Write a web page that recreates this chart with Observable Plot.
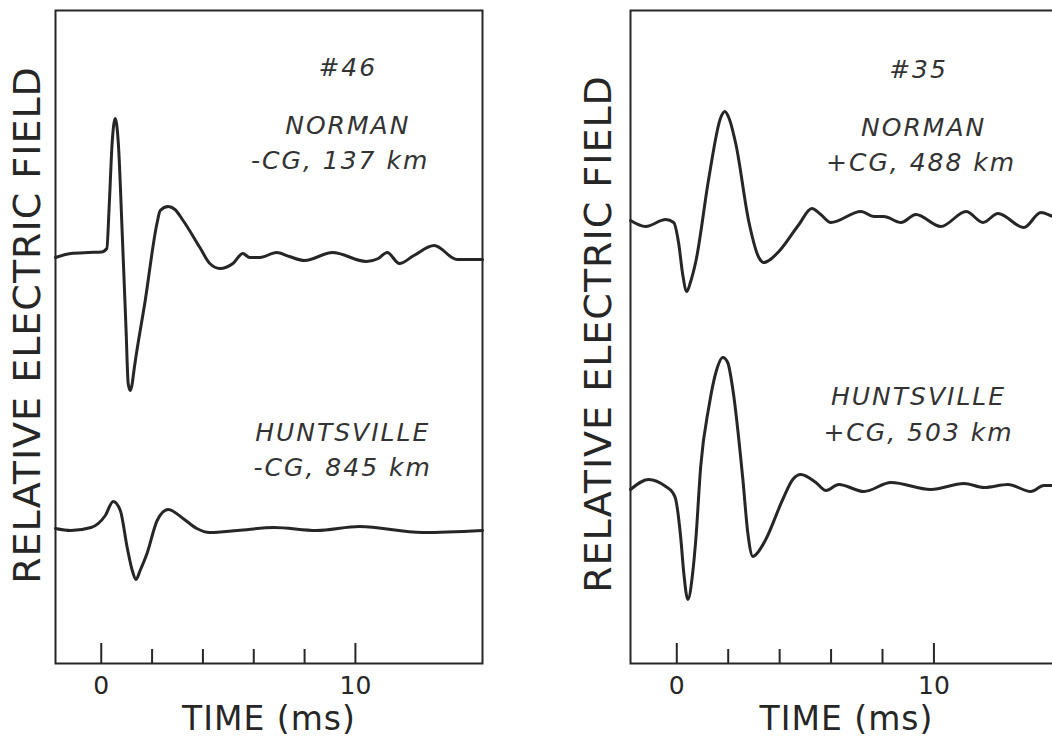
<!DOCTYPE html>
<html>
<head>
<meta charset="utf-8">
<script src="https://cdn.jsdelivr.net/npm/d3@7"></script>
<script src="https://cdn.jsdelivr.net/npm/@observablehq/plot@0.6"></script>
<style>
  html, body { margin: 0; padding: 0; background: #fff; }
  #wrap { display: flex; width: 1052px; height: 740px; overflow: hidden; }
  #wrap svg { flex: none; display: block; }
</style>
</head>
<body>
<div id="wrap"></div>
<script>
// ---- Data (time in ms, field in relative units) ----
const majorTicks = [0, 10];
const minorTicks = [2, 4, 6, 8];
const xTitle = "TIME (ms)";
const yTitle = "RELATIVE ELECTRIC FIELD";

// Flash #46, Norman, -CG 137 km
const f46NormanTime  = [-1.8, -1.2, -0.5, 0.0, 0.22, 0.31, 0.43, 0.55, 0.67, 0.83, 0.98, 1.06, 1.14, 1.22, 1.26, 1.73, 2.2, 2.32, 2.63, 2.9, 3.22, 3.88, 4.27, 4.67, 5.18, 5.57, 5.84, 6.24, 6.9, 7.4, 8.0, 9.1, 10.43, 10.9, 11.25, 11.73, 12.3, 13.1, 14.0, 15.0];
const f46NormanField = [0, 0.4, 0.5, 0.55, 0.9, 5.0, 11.5, 13.9, 11.5, 2.1, -7.5, -12.6, -13.3, -12.6, -11.8, -4.3, 3.5, 4.7, 5.1, 4.8, 3.7, 1.0, -0.6, -1.1, -0.6, 0.4, 0.0, 0.0, 0.5, 0.1, -0.3, 0.5, -0.4, -0.1, 0.5, -0.6, 0.2, 1.2, -0.2, -0.2];

// Flash #46, Huntsville, -CG 845 km
const f46HuntsTime  = [-1.8, -1.2, -0.4, 0.16, 0.47, 0.75, 1.02, 1.22, 1.37, 1.53, 1.8, 2.2, 2.63, 3.22, 3.76, 4.27, 5.37, 6.8, 8.47, 10.16, 12.63, 15.0];
const f46HuntsField = [0.2, 0.0, 0.3, 1.5, 2.9, 2.0, -1.7, -4.0, -4.9, -4.0, -2.3, 1.0, 2.1, 1.2, 0.2, -0.2, 0.0, 0.3, 0.0, 0.4, -0.2, 0.0];

// Flash #35, Norman, +CG 488 km
const f35NormanTime  = [-1.8, -1.21, -0.43, -0.12, 0.08, 0.23, 0.39, 0.54, 0.74, 1.25, 1.71, 1.87, 2.02, 2.3, 2.8, 3.19, 3.39, 3.58, 3.97, 4.75, 5.25, 5.6, 5.99, 7.16, 7.67, 8.05, 8.72, 9.3, 10.27, 11.25, 11.91, 12.49, 13.5, 14.16, 14.63, 15.0];
const f35NormanField = [-0.1, -0.7, 0.0, -0.3, -2.5, -5.5, -7.2, -6.2, -4.2, 4.2, 10.2, 10.8, 10.2, 7.5, -0.2, -3.8, -4.3, -4.1, -3.2, -0.5, 1.1, 0.5, -0.3, 0.8, 0.3, 0.3, -0.3, 0.5, -0.7, 0.8, -0.3, 0.6, -0.8, 0.7, 0.3, 0.0];

// Flash #35, Huntsville, +CG 503 km
const f35HuntsTime  = [-1.8, -1.09, -0.43, -0.16, -0.04, 0.16, 0.27, 0.43, 0.62, 0.74, 0.93, 1.25, 1.52, 1.79, 1.98, 2.18, 2.57, 2.76, 2.96, 3.15, 3.46, 4.12, 4.51, 4.82, 5.41, 5.8, 6.3, 7.28, 8.33, 9.88, 11.17, 11.95, 12.88, 13.77, 14.28, 14.63, 15.0];
const f35HuntsField = [-0.3, 0.7, 0.0, -0.6, -1.3, -5.3, -8.6, -11.3, -8.6, -5.3, 2.0, 8.0, 11.4, 12.9, 12.4, 9.7, 0.7, -4.6, -7.0, -6.6, -5.3, -1.3, 0.7, 1.2, 0.4, -0.4, 0.2, -0.5, 0.4, -0.3, 0.3, -0.1, 0.2, -0.5, 0.1, 0.1, 0.0];

const panel46Labels = ["#46", "NORMAN", "-CG, 137 km", "HUNTSVILLE", "-CG, 845 km"];
const panel35Labels = ["#35", "NORMAN", "+CG, 488 km", "HUNTSVILLE", "+CG, 503 km"];

// ---- Drawing ----
const ink = "#262626";
const font = "DejaVu Sans";

function trace(times, fields, offset) {
  return Plot.line(times.map((t, i) => ({t, v: fields[i] + offset})), {
    x: "t", y: "v", curve: "monotone-x", stroke: ink, strokeWidth: 3
  });
}

function panel({width, marginLeft, marginRight, traces, labels, labelPos, yDx, yDy}) {
  const svg = Plot.plot({
    width, height: 740,
    marginTop: 10, marginBottom: 77, marginLeft, marginRight,
    x: {domain: [-1.8, 15]},
    y: {domain: [0, 65.3], axis: null},
    style: {background: "#fff", color: ink, fontFamily: font, overflow: "visible"},
    marks: [
      Plot.frame({stroke: ink, strokeWidth: 2}),
      Plot.axisX(majorTicks, {tickSize: -20, fill: "none", stroke: ink, strokeWidth: 2, label: null}),
      Plot.axisX(minorTicks, {tickSize: -14, fill: "none", stroke: ink, strokeWidth: 2, label: null}),
      Plot.text(majorTicks, {x: d => d, text: d => String(d), frameAnchor: "bottom", lineAnchor: "middle", dy: 22, fontSize: 25, fill: ink, fontFamily: font}),
      Plot.text([xTitle], {frameAnchor: "bottom", lineAnchor: "middle", textAnchor: "middle", dy: 56, fontSize: 33, fill: ink, fontFamily: font}),
      Plot.text([yTitle], {frameAnchor: "left", textAnchor: "middle", lineAnchor: "middle", rotate: -90, dx: yDx, dy: yDy, fontSize: 38, fill: ink, fontFamily: font}),
      ...traces,
      Plot.text(labels, {
        x: (d, i) => labelPos[i][0], y: (d, i) => labelPos[i][1], text: d => d,
        fontSize: 25, fontStyle: "italic", fill: "#333", fontFamily: font
      })
    ]
  });
  // letter spacing to imitate the wide lettering-guide font
  svg.querySelectorAll("text").forEach(el => {
    const s = el.textContent;
    if (labels.includes(s)) el.style.letterSpacing = "2px";
    else if (s === xTitle) el.style.letterSpacing = "1px";
    else if (s === yTitle) el.style.letterSpacing = "1px";
  });
  return svg;
}

const wrap = document.getElementById("wrap");

wrap.append(panel({
  width: 530, marginLeft: 55, marginRight: 48,
  traces: [trace(f46NormanTime, f46NormanField, 40.6), trace(f46HuntsTime, f46HuntsField, 13.3)],
  labels: panel46Labels,
  labelPos: [[9.7, 59.6], [9.7, 53.8], [9.4, 50.3], [9.5, 23.1], [9.5, 19.6]],
  yDx: -28, yDy: -12
}));

wrap.append(panel({
  width: 542, marginLeft: 100, marginRight: 10,
  traces: [trace(f35NormanTime, f35NormanField, 44.4), trace(f35HuntsTime, f35HuntsField, 17.7)],
  labels: panel35Labels,
  labelPos: [[9.4, 59.4], [9.6, 53.6], [9.5, 50.1], [9.4, 26.7], [9.4, 23.1]],
  yDx: -32, yDy: -3
}));
</script>
</body>
</html>
